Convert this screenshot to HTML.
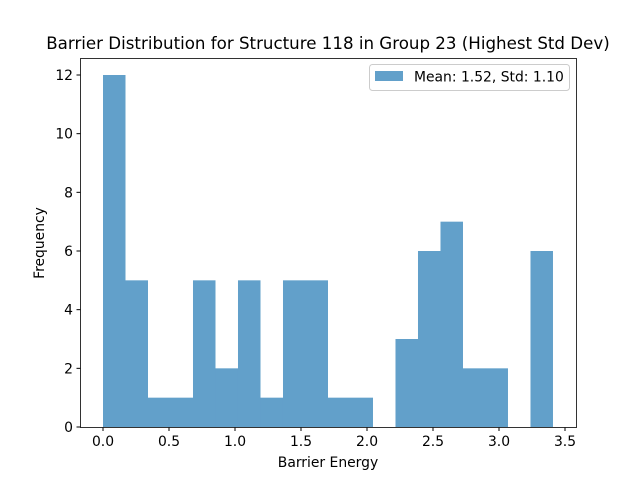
<!DOCTYPE html>
<html><head><meta charset="utf-8"><style>
body{margin:0;background:#fff;}
svg{display:block;font-family:"DejaVu Sans","Liberation Sans",sans-serif;}
</style></head><body>
<svg id="chart" width="640" height="480">
<rect width="640" height="480" fill="#fff"/>
<text x="328" y="49" font-size="16.67" text-anchor="middle">Barrier Distribution for Structure 118 in Group 23 (Highest Std Dev)</text>
<g id="bars"></g>
<g id="axes"></g>
<text x="328" y="467" font-size="13.9" text-anchor="middle">Barrier Energy</text>
<text x="44" y="243" font-size="13.9" text-anchor="middle" transform="rotate(-90 44 243)">Frequency</text>
<g>
<rect x="369.5" y="64.5" width="200" height="26" rx="3" fill="#fff" stroke="#ccc"/>
<rect x="375" y="71" width="28" height="10" fill="#1f77b4" fill-opacity="0.7"/>
<text x="414" y="81.5" font-size="13.9">Mean: 1.52, Std: 1.10</text>
</g>
</svg>
<script>
const counts=[12,5,1,1,5,2,5,1,5,5,1,1,0,3,6,7,2,2,0,6];
const binStart=0.0;
const binEnd=3.409;
const xTicks=[0.0,0.5,1.0,1.5,2.0,2.5,3.0,3.5];
const xTickLabels=["0.0","0.5","1.0","1.5","2.0","2.5","3.0","3.5"];
const yTicks=[0,2,4,6,8,10,12];
const L=80,R=576,T=58,B=427;
const xs=v=>103+v*132;
const ys=v=>427-v*(352/12);
const ns="http://www.w3.org/2000/svg";
const bars=document.getElementById('bars'),axes=document.getElementById('axes');
const w=(binEnd-binStart)/counts.length;
counts.forEach((c,i)=>{
 if(c<=0)return;
 const r=document.createElementNS(ns,'rect');
 const x0=xs(binStart+i*w),x1=xs(binStart+(i+1)*w);
 r.setAttribute('x',x0);r.setAttribute('width',x1-x0);
 r.setAttribute('y',ys(c));r.setAttribute('height',ys(0)-ys(c));
 r.setAttribute('fill','#1f77b4');r.setAttribute('fill-opacity','0.7');
 
 
 bars.appendChild(r);
});
const frame=document.createElementNS(ns,'rect');
frame.setAttribute('x',L+0.5);frame.setAttribute('y',T+0.5);frame.setAttribute('width',R-L);frame.setAttribute('height',B-T);
frame.setAttribute('fill','none');frame.setAttribute('stroke','#000');frame.setAttribute('stroke-width','0.8');


axes.appendChild(frame);
xTicks.forEach((v,i)=>{
 const x=xs(v);
 const l=document.createElementNS(ns,'line');
 l.setAttribute('x1',x);l.setAttribute('x2',x);l.setAttribute('y1',B+0.5);l.setAttribute('y2',B+4);l.setAttribute('stroke','#000');
 
 
 axes.appendChild(l);
 const t=document.createElementNS(ns,'text');
 t.setAttribute('x',x);t.setAttribute('y',B+19);t.setAttribute('font-size','13.9');t.setAttribute('text-anchor','middle');
 t.textContent=xTickLabels[i];
 
 
 axes.appendChild(t);
});
yTicks.forEach(v=>{
 const y=ys(v);
 const l=document.createElementNS(ns,'line');
 l.setAttribute('x1',L-3.5);l.setAttribute('x2',L+0.5);l.setAttribute('y1',y);l.setAttribute('y2',y);l.setAttribute('stroke','#000');
 
 
 axes.appendChild(l);
 const t=document.createElementNS(ns,'text');
 t.setAttribute('x',L-7);t.setAttribute('y',y+5);t.setAttribute('font-size','13.9');t.setAttribute('text-anchor','end');
 t.textContent=String(v);
 
 
 axes.appendChild(t);
});
</script>
</body></html>
